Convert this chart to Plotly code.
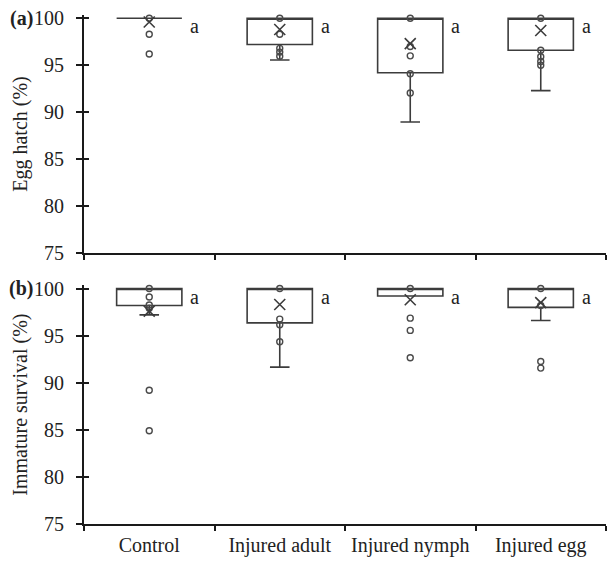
import plotly.graph_objects as go

# ---------------- data ----------------
categories = ["Control", "Injured adult", "Injured nymph", "Injured egg"]

# (a) Egg hatch (%)
a_q1 = [100.0, 97.2, 94.2, 96.6]
a_median = [100.0, 100.0, 100.0, 100.0]
a_q3 = [100.0, 100.0, 100.0, 100.0]
a_lower = [100.0, 95.55, 88.95, 92.3]
a_upper = [100.0, 100.0, 100.0, 100.0]
a_mean = [99.6, 98.8, 97.3, 98.7]
a_points = [
    [100.0, 98.3, 96.2],
    [100.0, 98.3, 96.8, 96.4, 95.95],
    [100.0, 97.0, 96.0, 94.1, 92.05],
    [100.0, 96.6, 95.9, 95.4, 95.0],
]
a_letters = ["a", "a", "a", "a"]

# (b) Immature survival (%)
b_q1 = [98.2, 96.35, 99.2, 98.0]
b_median = [100.0, 100.0, 100.0, 100.0]
b_q3 = [100.0, 100.0, 100.0, 100.0]
b_lower = [97.2, 91.65, 99.2, 96.6]
b_upper = [100.0, 100.0, 100.0, 100.0]
b_mean = [97.6, 98.3, 98.8, 98.5]
b_points = [
    [100.0, 99.1, 98.25, 97.9, 89.2, 84.9],
    [100.0, 96.75, 96.15, 94.35],
    [100.0, 96.85, 95.55, 92.65],
    [100.0, 98.2, 92.25, 91.55],
]
b_letters = ["a", "a", "a", "a"]

y_ticks = [75, 80, 85, 90, 95, 100]
panel_labels = ["(a)", "(b)"]
y_titles = ["Egg hatch (%)", "Immature survival (%)"]

# ---------------- style ----------------
FONT = "Liberation Serif"
TXT = "#222222"
BOXC = "#3c3c3c"
PTC = "#4a4a4a"
AXC = "#1a1a1a"
FS = 20

W, H = 608, 562
L, R, T, B = 84, 2, 15, 38
plot_h = H - T - B
def frac(px_from_top):
    return (H - B - px_from_top) / plot_h

dom_a = [frac(253), 1.0]
dom_b = [0.0, frac(285.2)]

fig = go.Figure()

def add_panel(xa, ya, q1, med, q3, lo, up, mean, pts, letters):
    fig.add_trace(go.Box(
        x=categories, q1=q1, median=med, q3=q3,
        lowerfence=lo, upperfence=up,
        boxpoints=False, fillcolor="white",
        line=dict(color=BOXC, width=1.6),
        whiskerwidth=0.3, width=0.5,
        xaxis=xa, yaxis=ya, showlegend=False, hoverinfo="skip",
    ))
    px, py = [], []
    for c, vals in zip(categories, pts):
        for v in vals:
            px.append(c)
            py.append(v)
    fig.add_trace(go.Scatter(
        x=px, y=py, mode="markers", xaxis=xa, yaxis=ya, showlegend=False,
        marker=dict(symbol="circle-open", size=6, color=PTC, line=dict(width=1.4, color=PTC)),
        hoverinfo="skip", cliponaxis=False,
    ))
    fig.add_trace(go.Scatter(
        x=categories, y=mean, mode="markers", xaxis=xa, yaxis=ya, showlegend=False,
        marker=dict(symbol="x-thin-open", size=11, color=BOXC, line=dict(width=1.6, color=BOXC)),
        hoverinfo="skip", cliponaxis=False,
    ))
    for i, lt in enumerate(letters):
        fig.add_annotation(
            x=i + 0.30, y=99.15, xref=xa, yref=ya, text=lt, showarrow=False,
            xanchor="left", yanchor="middle",
            font=dict(family=FONT, size=FS, color=TXT),
        )

add_panel("x", "y", a_q1, a_median, a_q3, a_lower, a_upper, a_mean, a_points, a_letters)
add_panel("x2", "y2", b_q1, b_median, b_q3, b_lower, b_upper, b_mean, b_points, b_letters)

# invisible traces so the overlay (inner tick) axes get drawn
fig.add_trace(go.Scatter(x=[], y=[], xaxis="x", yaxis="y3", showlegend=False))
fig.add_trace(go.Scatter(x=[], y=[], xaxis="x2", yaxis="y4", showlegend=False))

yrange = [75, 100.35]
yax_common = dict(
    range=yrange, tickvals=y_ticks, ticks="outside", ticklen=6, tickwidth=1.8,
    tickcolor=AXC, showline=True, linecolor=AXC, linewidth=2, showgrid=False,
    zeroline=False, tickfont=dict(family=FONT, size=FS, color=TXT),
    ticklabelstandoff=8,
)
xax_common = dict(
    type="category", categoryorder="array", categoryarray=categories,
    range=[-0.5, 3.5], domain=[0, 1],
    showline=True, linecolor=AXC, linewidth=2, showgrid=False, zeroline=False,
    ticks="outside", ticklen=5, tickwidth=1.8, tickcolor=AXC, tickson="boundaries",
    tickfont=dict(family=FONT, size=FS, color=TXT),
)

fig.update_layout(
    width=W, height=H,
    margin=dict(l=L, r=R, t=T, b=B, autoexpand=False),
    paper_bgcolor="white", plot_bgcolor="white",
    font=dict(family=FONT, size=FS, color=TXT),
    xaxis=dict(**xax_common, anchor="y", showticklabels=False),
    xaxis2=dict(**xax_common, anchor="y2", showticklabels=True, ticklabelstandoff=2),
    yaxis=dict(**yax_common, domain=dom_a, anchor="x",
               title=dict(text=y_titles[0], standoff=1, font=dict(family=FONT, size=FS, color=TXT))),
    yaxis2=dict(**yax_common, domain=dom_b, anchor="x2",
                title=dict(text=y_titles[1], standoff=1, font=dict(family=FONT, size=FS, color=TXT))),
    yaxis3=dict(overlaying="y", matches="y", anchor="x", tickvals=y_ticks, ticks="inside",
                ticklen=5, tickwidth=1.8, tickcolor=AXC, showticklabels=False,
                showline=False, showgrid=False, zeroline=False),
    yaxis4=dict(overlaying="y2", matches="y2", anchor="x2", tickvals=y_ticks, ticks="inside",
                ticklen=5, tickwidth=1.8, tickcolor=AXC, showticklabels=False,
                showline=False, showgrid=False, zeroline=False),
)

# panel letters
for lab, dom in zip(panel_labels, [dom_a, dom_b]):
    fig.add_annotation(
        x=-50 / (W - L - R), y=100, xref="paper", yref="y" if lab == "(a)" else "y2",
        text="<b>" + lab + "</b>", showarrow=False, xanchor="right", yanchor="middle",
        borderpad=0, font=dict(family=FONT, size=FS, color=TXT),
    )

fig.write_html("out.html")
